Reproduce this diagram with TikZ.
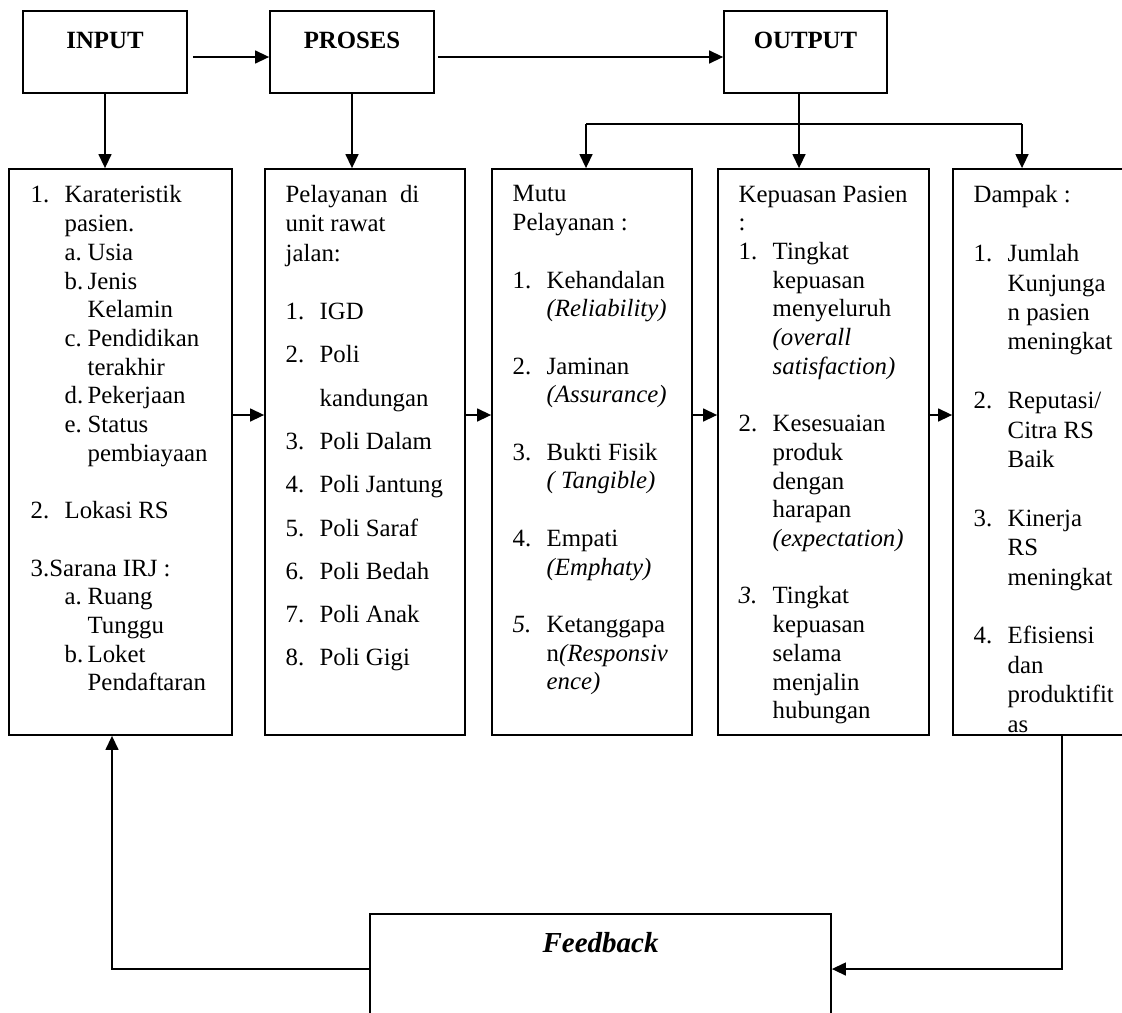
\documentclass[tikz,border=0pt]{standalone}
\usepackage{fontspec}
\setmainfont{Liberation Serif}
\usepackage{tikz}
\usetikzlibrary{calc, positioning, arrows.meta}

\newcommand{\numbox}[1]{\makebox[17pt][l]{#1}}
\newcommand{\subbox}[1]{\makebox[11.5pt][l]{#1}}
\newcommand{\ind}{\hspace*{17pt}}

\begin{document}
\fontsize{12.4pt}{14.35pt}\selectfont
\begin{tikzpicture}[
    x=0.5pt, y=-0.5pt,
    >={Triangle[length=7pt, width=6.5pt]},
    line width=0.7pt,
    topbox/.style={draw, line width=0.9pt, rectangle, inner sep=0pt, minimum width=82pt, text height=18.5pt, text depth=22.5pt, font=\bfseries},
    colbox/.style={draw, line width=0.9pt, rectangle, inner sep=0pt, minimum height=283pt},
    coltext/.style={anchor=north west, inner sep=0pt, align=left},
    fbbox/.style={draw, line width=0.9pt, rectangle, inner sep=0pt, minimum width=230.5pt, text height=19pt, text depth=36pt, font=\fontsize{14.5pt}{17pt}\selectfont\bfseries\itshape}
]
    \useasboundingbox (0,0) rectangle (1122,1012);

    % Top row
    \node[topbox] (input) at (105,52) {INPUT};
    \node[topbox] (proses) at (352,52) {PROSES};
    \node[topbox, minimum width=81.5pt] (output) at (805.5,52) {OUTPUT};

    % Columns
    \node[colbox, minimum width=111.5pt] (incol) at (120.5,452) {};
    \node[colbox, minimum width=100pt] (procol) at (365,452) {};
    \node[colbox, minimum width=100pt] (mutucol) at (592,452) {};
    \node[colbox, minimum width=105.5pt] (puascol) at (823.5,452) {};
    \node[colbox, minimum width=93.5pt] (dampcol) at (1046.5,452) {};

    % Input list
    \node[coltext] (intext) at (30,185) {\numbox{1.}Karateristik\\
        \ind pasien.\\
        \ind\subbox{a.}Usia\\
        \ind\subbox{b.}Jenis\\
        \ind\hspace*{11.5pt}Kelamin\\
        \ind\subbox{c.}Pendidikan\\
        \ind\hspace*{11.5pt}terakhir\\
        \ind\subbox{d.}Pekerjaan\\
        \ind\subbox{e.}Status\\
        \ind\hspace*{11.5pt}pembiayaan\\[14.35pt]
        \numbox{2.}Lokasi RS\\[14.35pt]
        3.Sarana IRJ :\\
        \ind\subbox{a.}Ruang\\
        \ind\hspace*{11.5pt}Tunggu\\
        \ind\subbox{b.}Loket\\
        \ind\hspace*{11.5pt}Pendaftaran};

    % Proses list
    \node[coltext] (protext) at (285,185) {Pelayanan\ \ di\\
        unit rawat\\[0.6pt]
        jalan:\\[14.65pt]
        \numbox{1.}IGD\\[7.3pt]
        \numbox{2.}Poli\\[7.3pt]
        \ind kandungan\\[7.3pt]
        \numbox{3.}Poli Dalam\\[7.3pt]
        \numbox{4.}Poli Jantung\\[7.3pt]
        \numbox{5.}Poli Saraf\\[7.3pt]
        \numbox{6.}Poli Bedah\\[7.3pt]
        \numbox{7.}Poli Anak\\[7.3pt]
        \numbox{8.}Poli Gigi};

    % Mutu pelayanan
    \node[coltext] (mututext) at (512,185) {Mutu\\
        Pelayanan :\\[14.35pt]
        \numbox{1.}Kehandalan\\
        \ind\textit{(Reliability)}\\[14.35pt]
        \numbox{2.}Jaminan\\
        \ind\textit{(Assurance)}\\[14.35pt]
        \numbox{3.}Bukti Fisik\\
        \ind\textit{( Tangible)}\\[14.35pt]
        \numbox{4.}Empati\\
        \ind\textit{(Emphaty)}\\[14.35pt]
        \numbox{\textit{5.}}Ketanggapa\\
        \ind n\textit{(Responsiv}\\
        \ind\textit{ence)}};

    % Kepuasan pasien
    \node[coltext] (puastext) at (738,185) {Kepuasan Pasien\\
        :\\
        \numbox{1.}Tingkat\\
        \ind kepuasan\\
        \ind menyeluruh\\
        \ind\textit{(overall}\\
        \ind\textit{satisfaction)}\\[14.35pt]
        \numbox{2.}Kesesuaian\\
        \ind produk\\
        \ind dengan\\
        \ind harapan\\
        \ind\textit{(expectation)}\\[14.35pt]
        \numbox{\textit{3.}}Tingkat\\
        \ind kepuasan\\
        \ind selama\\
        \ind menjalin\\
        \ind hubungan};

    % Dampak
    \node[coltext, font=\fontsize{12.4pt}{14.7pt}\selectfont] (damptext) at (973,185) {Dampak :\\[14.7pt]
        \numbox{1.}Jumlah\\
        \ind Kunjunga\\
        \ind n pasien\\
        \ind meningkat\\[14.7pt]
        \numbox{2.}Reputasi/\\
        \ind Citra RS\\
        \ind Baik\\[14.7pt]
        \numbox{3.}Kinerja\\
        \ind RS\\
        \ind meningkat\\[14.7pt]
        \numbox{4.}Efisiensi\\
        \ind dan\\
        \ind produktifit\\
        \ind as};

    % Feedback
    \node[fbbox] (feedback) at (600.5,969) {Feedback};

    % Top connectors
    \coordinate (toprow) at (0,57);
    \draw[->] ([xshift=2.5pt]input.east |- toprow) -- (proses.west |- toprow);
    \draw[->] ([xshift=1.5pt]proses.east |- toprow) -- (output.west |- toprow);
    \draw[->] (input.south) -- (input.south |- incol.north);
    \draw[->] (proses.south) -- (proses.south |- procol.north);

    % Output branches
    \coordinate (brleft) at (586,124);
    \coordinate (brright) at (1022,124);
    \draw[->] ([xshift=-3.25pt]output.south) -- ([xshift=-3.25pt]output.south |- puascol.north);
    \draw (brleft) -- (brright);
    \draw[->] (brleft) -- (brleft |- mutucol.north);
    \draw[->] (brright) -- (brright |- dampcol.north);

    % Between columns
    \coordinate (midrow) at (0,415);
    \foreach \a/\b in {incol/procol, procol/mutucol, mutucol/puascol, puascol/dampcol}
        \draw[->] (\a.east |- midrow) -- (\b.west |- midrow);

    % Feedback loop
    \coordinate (fbleft) at (112,969);
    \coordinate (fbright) at (1062,969);
    \draw[->] (feedback.west) -| (fbleft |- incol.south);
    \draw[->] (fbright |- dampcol.south) |- (feedback.east);

\end{tikzpicture}
\end{document}
